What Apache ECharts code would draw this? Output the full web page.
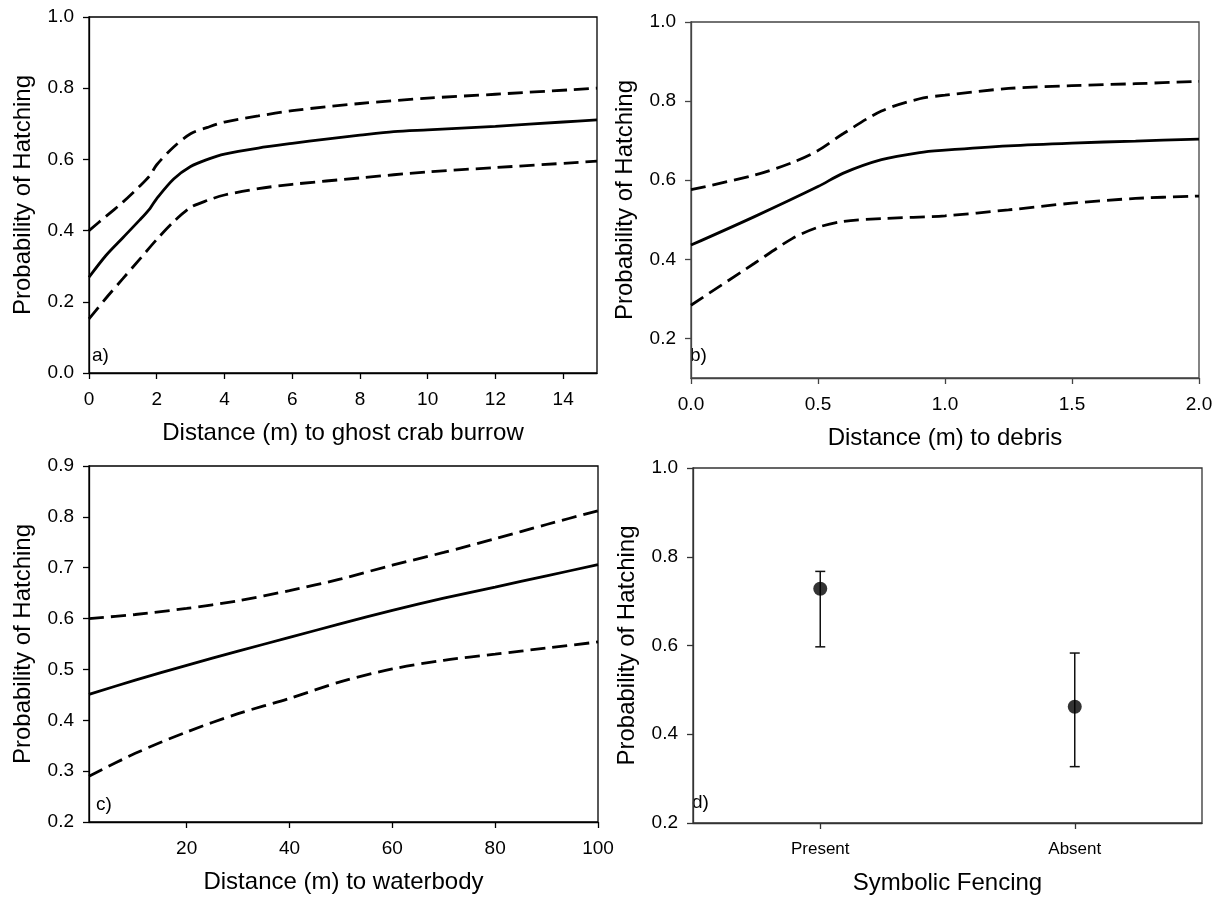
<!DOCTYPE html>
<html>
<head>
<meta charset="utf-8">
<script src="https://cdn.jsdelivr.net/npm/echarts@6/dist/echarts.min.js"></script>
<style>
  html, body { margin: 0; padding: 0; background: #fff; }
  #chart { width: 1220px; height: 903px; }
</style>
</head>
<body>
<div id="chart"></div>
<script>
// a) distance to ghost crab burrow
const burrowX     = [0, 0.5, 1, 1.5, 1.8, 2.0, 2.5, 3, 3.5, 4, 5, 6, 7, 8, 9, 10, 12, 14, 15];
const burrowFit   = [0.269, 0.330, 0.380, 0.430, 0.462, 0.490, 0.545, 0.580, 0.600, 0.615, 0.632, 0.645, 0.657, 0.668, 0.678, 0.683, 0.693, 0.705, 0.711];
const burrowUpX   = [0, 0.5, 1, 1.5, 1.8, 2.0, 2.5, 3, 3.5, 4, 5, 6, 8, 10, 12, 15];
const burrowUpper = [0.400, 0.440, 0.480, 0.525, 0.555, 0.585, 0.635, 0.672, 0.690, 0.705, 0.722, 0.737, 0.757, 0.772, 0.783, 0.800];
const burrowLoX   = [0, 0.5, 1, 1.5, 2.0, 2.5, 3, 3.5, 4, 5, 6, 8, 10, 12, 15];
const burrowLower = [0.152, 0.210, 0.265, 0.320, 0.375, 0.425, 0.465, 0.485, 0.500, 0.518, 0.530, 0.548, 0.565, 0.577, 0.595];
const burrowTicks = [0, 2, 4, 6, 8, 10, 12, 14];

// b) distance to debris
const debrisX     = [0, 0.25, 0.5, 0.6, 0.75, 0.9, 1.0, 1.25, 1.5, 1.75, 2.0];
const debrisFit   = [0.436, 0.508, 0.584, 0.618, 0.652, 0.670, 0.676, 0.687, 0.694, 0.699, 0.704];
const debrisUpX   = [0, 0.25, 0.4, 0.5, 0.6, 0.75, 0.9, 1.0, 1.25, 1.5, 1.75, 2.0];
const debrisUpper = [0.576, 0.613, 0.645, 0.675, 0.718, 0.775, 0.806, 0.815, 0.832, 0.839, 0.844, 0.850];
const debrisLoX   = [0, 0.25, 0.4, 0.5, 0.6, 0.75, 1.0, 1.25, 1.5, 1.75, 2.0];
const debrisLower = [0.284, 0.390, 0.453, 0.481, 0.496, 0.503, 0.510, 0.525, 0.542, 0.554, 0.560];
const debrisTicks = [0, 0.5, 1.0, 1.5, 2.0];

// c) distance to waterbody
const waterX     = [1, 10, 20, 30, 40, 50, 60, 70, 80, 90, 100];
const waterFit   = [0.451, 0.479, 0.508, 0.536, 0.563, 0.590, 0.616, 0.640, 0.662, 0.684, 0.706];
const waterUpper = [0.600, 0.608, 0.620, 0.635, 0.655, 0.678, 0.705, 0.730, 0.757, 0.785, 0.812];
const waterLower = [0.290, 0.335, 0.377, 0.413, 0.443, 0.476, 0.501, 0.518, 0.530, 0.542, 0.554];
const waterTicks = [20, 40, 60, 80, 100];

// d) symbolic fencing
const fencing      = ['Present', 'Absent'];
const fencingMean  = [0.728, 0.462];
const fencingLower = [0.597, 0.327];
const fencingUpper = [0.767, 0.583];

const probTicksFull = [0.0, 0.2, 0.4, 0.6, 0.8, 1.0];
const probTicksUpper = [0.2, 0.4, 0.6, 0.8, 1.0];
const probTicksTenths = [0.2, 0.3, 0.4, 0.5, 0.6, 0.7, 0.8, 0.9];

const FONT = "'Liberation Sans', Arial, Helvetica, sans-serif";
const yTitle = 'Probability of Hatching';
const TICK_FONT = 19;
const TITLE_FONT = 24;

const grids = [
  { left: 89,  top: 17,  width: 508, height: 356 },
  { left: 691, top: 22,  width: 508, height: 356 },
  { left: 89,  top: 466, width: 509, height: 356 },
  { left: 693, top: 468, width: 509, height: 355 }
];
const frameColors = ['#000', '#444', '#000', '#333'];

function axisStyle(i) {
  const c = frameColors[i];
  return {
    axisLine: { show: true, onZero: false, lineStyle: { color: c, width: 1.3 } },
    splitLine: { show: false },
    nameTextStyle: { fontFamily: FONT, fontSize: TITLE_FONT, color: '#000' }
  };
}

function valueX(i, min, max, ticks, digits, name) {
  return Object.assign(axisStyle(i), {
    type: 'value', gridIndex: i, min: min, max: max,
    name: name, nameLocation: 'middle', nameGap: 48,
    axisTick: { show: true, inside: false, length: 6, customValues: ticks,
                lineStyle: { color: frameColors[i], width: 1.3 } },
    axisLabel: { customValues: ticks, margin: 17, fontFamily: FONT, fontSize: TICK_FONT, color: '#000',
                 formatter: v => Number(v).toFixed(digits) }
  });
}

function valueY(i, min, max, ticks) {
  return Object.assign(axisStyle(i), {
    type: 'value', gridIndex: i, min: min, max: max,
    name: yTitle, nameLocation: 'middle', nameGap: 54,
    axisTick: { show: true, inside: false, length: 6, customValues: ticks,
                lineStyle: { color: frameColors[i], width: 1.3 } },
    axisLabel: { customValues: ticks, margin: 15, fontFamily: FONT, fontSize: TICK_FONT, color: '#000',
                 formatter: v => Number(v).toFixed(1) }
  });
}

function curve(i, xs, ys, dashed) {
  return {
    type: 'line', xAxisIndex: i, yAxisIndex: i,
    data: xs.map((x, k) => [x, ys[k]]),
    showSymbol: false, smooth: 0.3, silent: true,
    lineStyle: { color: '#000', width: 2.8, type: dashed ? [15, 7] : 'solid', cap: 'butt' }
  };
}

const option = {
  animation: false,
  backgroundColor: '#fff',
  grid: grids.map((g, i) => Object.assign({ show: true, borderColor: frameColors[i], borderWidth: 1.3,
                                            backgroundColor: 'transparent' }, g)),
  xAxis: [
    valueX(0, 0, 15, burrowTicks, 0, 'Distance (m) to ghost crab burrow'),
    valueX(1, 0, 2, debrisTicks, 1, 'Distance (m) to debris'),
    valueX(2, 1, 100, waterTicks, 0, 'Distance (m) to waterbody'),
    Object.assign(axisStyle(3), {
      type: 'category', gridIndex: 3, data: fencing, boundaryGap: true,
      name: 'Symbolic Fencing', nameLocation: 'middle', nameGap: 48,
      axisTick: { show: true, alignWithLabel: true, length: 6,
                  lineStyle: { color: frameColors[3], width: 1.3 } },
      axisLabel: { margin: 18, fontFamily: FONT, fontSize: 17, color: '#000' }
    })
  ],
  yAxis: [
    valueY(0, 0, 1, probTicksFull),
    valueY(1, 0.1, 1, probTicksUpper),
    valueY(2, 0.2, 0.9, probTicksTenths),
    valueY(3, 0.2, 1, probTicksUpper)
  ],
  graphic: [
    { type: 'text', left: 92,  top: 346, style: { text: 'a)', font: '19px ' + FONT, fill: '#000' } },
    { type: 'text', left: 690, top: 346, style: { text: 'b)', font: '19px ' + FONT, fill: '#000' } },
    { type: 'text', left: 96,  top: 795, style: { text: 'c)', font: '19px ' + FONT, fill: '#000' } },
    { type: 'text', left: 692, top: 793, style: { text: 'd)', font: '19px ' + FONT, fill: '#000' } }
  ],
  series: [
    curve(0, burrowX, burrowFit, false),
    curve(0, burrowUpX, burrowUpper, true),
    curve(0, burrowLoX, burrowLower, true),
    curve(1, debrisX, debrisFit, false),
    curve(1, debrisUpX, debrisUpper, true),
    curve(1, debrisLoX, debrisLower, true),
    curve(2, waterX, waterFit, false),
    curve(2, waterX, waterUpper, true),
    curve(2, waterX, waterLower, true),
    {
      type: 'custom', xAxisIndex: 3, yAxisIndex: 3, silent: true,
      data: fencing.map((c, k) => [k, fencingLower[k], fencingUpper[k]]),
      renderItem: function (params, api) {
        const lo = api.coord([api.value(0), api.value(1)]);
        const hi = api.coord([api.value(0), api.value(2)]);
        const cap = 5;
        const st = { stroke: '#111', lineWidth: 1.5 };
        return {
          type: 'group',
          children: [
            { type: 'line', shape: { x1: lo[0], y1: lo[1], x2: hi[0], y2: hi[1] }, style: st },
            { type: 'line', shape: { x1: lo[0] - cap, y1: lo[1], x2: lo[0] + cap, y2: lo[1] }, style: st },
            { type: 'line', shape: { x1: hi[0] - cap, y1: hi[1], x2: hi[0] + cap, y2: hi[1] }, style: st }
          ]
        };
      }
    },
    {
      type: 'scatter', xAxisIndex: 3, yAxisIndex: 3, silent: true, z: 5,
      data: fencingMean, symbol: 'circle', symbolSize: 14,
      itemStyle: { color: '#000' }
    }
  ]
};

const chart = echarts.init(document.getElementById('chart'), null, { renderer: 'canvas' });
chart.setOption(option);
</script>
</body>
</html>
